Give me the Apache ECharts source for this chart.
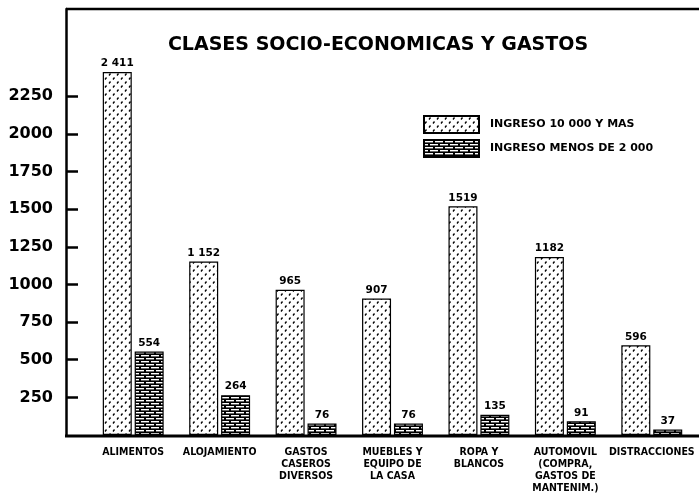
<!DOCTYPE html>
<html>
<head>
<meta charset="utf-8">
<script src="https://cdn.jsdelivr.net/npm/echarts@6/dist/echarts.min.js"></script>
<style>
  html, body { margin: 0; padding: 0; background: #fff; }
  #chart { width: 699px; height: 494px; }
</style>
</head>
<body>
<div id="chart"></div>
<script>
// categorias de gasto
const categories = [
  'ALIMENTOS',
  'ALOJAMIENTO',
  'GASTOS\nCASEROS\nDIVERSOS',
  'MUEBLES Y\nEQUIPO DE\nLA CASA',
  'ROPA Y\nBLANCOS',
  'AUTOMOVIL\n(COMPRA,\nGASTOS DE\nMANTENIM.)',
  'DISTRACCIONES'
]
// ingreso 10 000 y mas
const highIncome = [2411, 1152, 965, 907, 1519, 1182, 596]
const highIncomeLabels = ['2 411', '1 152', '965', '907', '1519', '1182', '596']
// ingreso menos de 2 000
const lowIncome = [554, 264, 76, 76, 135, 91, 37]
// marcas del eje
const yTicks = [250, 500, 750, 1000, 1250, 1500, 1750, 2000, 2250]

const FONT = 'DejaVu Sans'
const FONT_NARROW = '"DejaVu Sans Condensed", "Liberation Sans Narrow", "DejaVu Sans"'

// trama de puntos diagonales
function dotPattern() {
  const c = document.createElement('canvas')
  c.width = 8; c.height = 8
  const g = c.getContext('2d')
  g.fillStyle = '#fff'
  g.fillRect(0, 0, 8, 8)
  g.strokeStyle = '#000'
  g.lineWidth = 1.3
  g.beginPath()
  g.moveTo(5, 3.5); g.lineTo(6.5, 1.5)
  g.moveTo(1, 7.5); g.lineTo(2.5, 5.5)
  g.stroke()
  return c
}

// trama de ladrillos
function brickPattern() {
  const c = document.createElement('canvas')
  c.width = 10; c.height = 6
  const g = c.getContext('2d')
  g.fillStyle = '#000'
  g.fillRect(0, 0, 10, 6)
  g.fillStyle = '#fff'
  g.fillRect(1, 1, 8, 1.4)
  g.fillRect(6, 4, 4, 1.4)
  g.fillRect(0, 4, 4, 1.4)
  return c
}

const chart = echarts.init(document.getElementById('chart'))

chart.setOption({
  backgroundColor: '#fff',
  animation: false,
  title: {
    text: 'CLASES SOCIO-ECONOMICAS Y GASTOS',
    left: 373,
    textAlign: 'center',
    top: 31,
    textStyle: { fontFamily: FONT, fontSize: 19, fontWeight: 900, color: '#000' }
  },
  legend: {
    orient: 'vertical',
    left: 418,
    top: 110,
    itemWidth: 55,
    itemHeight: 17,
    itemGap: 5,
    icon: 'rect',
    textStyle: { fontFamily: FONT, fontSize: 11, fontWeight: 'bold', color: '#000', padding: [0, 0, 0, 6] },
    data: ['INGRESO 10 000 Y MAS', 'INGRESO MENOS DE 2 000']
  },
  grid: { left: 90, right: 4, top: 9, bottom: 58 },
  xAxis: {
    type: 'category',
    data: categories,
    axisLine: { show: false },
    axisTick: { show: false },
    axisLabel: {
      interval: 0,
      margin: 11,
      fontFamily: FONT_NARROW,
      fontSize: 10.5,
      fontWeight: 'bold',
      lineHeight: 12,
      color: '#000'
    }
  },
  yAxis: {
    type: 'value',
    min: 0,
    max: 2830,
    offset: 24,
    splitLine: { show: false },
    axisLine: { show: true, lineStyle: { color: '#000', width: 2.5 } },
    axisTick: { show: true, inside: true, length: 12, customValues: yTicks, lineStyle: { color: '#000', width: 2.5 } },
    axisLabel: {
      customValues: yTicks,
      formatter: v => String(v),
      margin: 13,
      fontFamily: FONT,
      fontSize: 16,
      fontWeight: 'bold',
      color: '#000'
    }
  },
  graphic: [
    { type: 'line', shape: { x1: 66, y1: 9, x2: 699, y2: 9 }, style: { stroke: '#000', lineWidth: 2.5 } },
    { type: 'line', shape: { x1: 65, y1: 436, x2: 699, y2: 436 }, style: { stroke: '#000', lineWidth: 3 } }
  ],
  series: [
    {
      name: 'INGRESO 10 000 Y MAS',
      type: 'bar',
      data: highIncome,
      barWidth: 29,
      barGap: '10%',
      itemStyle: {
        color: { image: dotPattern(), repeat: 'repeat' },
        borderColor: '#000',
        borderWidth: 1.2
      },
      label: {
        show: true,
        position: 'top',
        distance: 3,
        formatter: p => highIncomeLabels[p.dataIndex],
        fontFamily: FONT,
        fontSize: 10.5,
        fontWeight: 'bold',
        color: '#000'
      }
    },
    {
      name: 'INGRESO MENOS DE 2 000',
      type: 'bar',
      data: lowIncome,
      barWidth: 29,
      itemStyle: {
        color: { image: brickPattern(), repeat: 'repeat' },
        borderColor: '#000',
        borderWidth: 1.2
      },
      label: {
        show: true,
        position: 'top',
        distance: 3,
        fontFamily: FONT,
        fontSize: 10.5,
        fontWeight: 'bold',
        color: '#000'
      }
    }
  ]
})
</script>
</body>
</html>
